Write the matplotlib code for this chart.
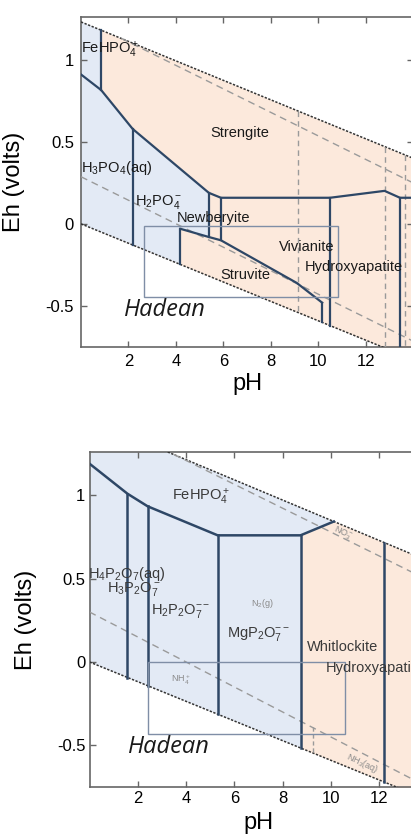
import numpy as np
import matplotlib
matplotlib.use("Agg")
import matplotlib.pyplot as plt
from matplotlib.patches import Rectangle

plt.rcParams['font.family'] = ['Liberation Sans', 'DejaVu Sans']
plt.rcParams['mathtext.fontset'] = 'custom'
plt.rcParams['mathtext.rm'] = 'Liberation Sans'
plt.rcParams['mathtext.it'] = 'Liberation Sans:italic'

# ---------------- top panel (orthophosphate) ----------------
top_o2_ph, top_o2_eh = [0, 14], [1.23, 0.40]          # upper water line (dotted)
top_h2_ph, top_h2_eh = [0, 14], [0.0, -0.826]         # lower water line (dotted)
top_no3_ph, top_no3_eh = [1.7, 14], [1.13, 0.25]      # gray dashed
top_nh4_ph, top_nh4_eh = [0, 14], [0.287, -0.714]     # gray dashed
top_vdash_ph = [9.15, 12.8, 13.65]

top_curve_ph = [0, 0.85, 2.18, 5.39, 5.9, 10.5, 12.8, 13.45, 14]
top_curve_eh = [0.91, 0.815, 0.578, 0.189, 0.159, 0.159, 0.201, 0.159, 0.159]
top_struv_ph = [4.19, 5.39, 5.9, 9.1, 10.17]
top_struv_eh = [-0.03, -0.08, -0.10, -0.36, -0.48]
top_vert_ph = [0.85, 2.18, 4.19, 5.39, 5.9, 10.17, 10.5, 13.45]
top_vert_top = [1.18, 0.578, -0.03, 0.189, 0.159, -0.48, 0.159, 0.159]
top_vert_bot = [0.815, -0.129, -0.247, -0.08, -0.10, -0.60, -0.62, -0.75]
top_box = [2.67, 10.85, -0.445, -0.012]

top_labels = ['FeHPO$_4^+$', 'Strengite', 'H$_3$PO$_4$(aq)', 'H$_2$PO$_4^-$',
              'Newberyite', 'Vivianite', 'Hydroxyapatite', 'Struvite']
top_lab_ph = [0.0, 6.7, 0.0, 3.27, 5.6, 9.5, 9.45, 6.93]
top_lab_eh = [1.06, 0.555, 0.34, 0.134, 0.037, -0.14, -0.26, -0.31]
top_lab_ha = ['left', 'center', 'left', 'center', 'center', 'center', 'left', 'center']
top_hadean = (3.55, -0.525)

# ---------------- bottom panel (pyrophosphate) ----------------
bot_o2_ph, bot_o2_eh = [3.24, 14], [1.26, 0.608]
bot_h2_ph, bot_h2_eh = [0, 14], [0.0, -0.826]
bot_no3_ph, bot_no3_eh = [3.5, 14], [1.245, 0.493]
bot_nh4_ph, bot_nh4_eh = [0, 14], [0.30, -0.75]
bot_vdash = (9.25, -0.39, -0.545)

bot_curve_ph = [0, 1.57, 2.41, 5.31, 8.74, 10.12]
bot_curve_eh = [1.19, 1.01, 0.934, 0.76, 0.76, 0.843]
bot_vert_ph = [1.57, 2.41, 5.31, 8.74, 12.19]
bot_vert_top = [1.01, 0.934, 0.76, 0.76, 0.717]
bot_vert_bot = [-0.093, -0.142, -0.313, -0.516, -0.72]
bot_box = [2.41, 10.57, -0.43, 0.0]

bot_labels = ['FeHPO$_4^+$', 'H$_4$P$_2$O$_7$(aq)', 'H$_3$P$_2$O$_7^-$', 'H$_2$P$_2$O$_7^{--}$',
              'MgP$_2$O$_7^{--}$', 'Whitlockite', 'Hydroxyapatite']
bot_lab_ph = [4.6, -0.07, 1.85, 3.78, 7.0, 10.5, 9.8]
bot_lab_eh = [0.99, 0.53, 0.44, 0.305, 0.17, 0.09, -0.035]
bot_lab_ha = ['center', 'left', 'center', 'center', 'center', 'center', 'left']
bot_small = ['N$_2$(g)', 'NH$_4^+$', 'NO$_3^-$', 'NH$_3$(aq)']
bot_small_ph = [7.17, 3.78, 10.5, 11.3]
bot_small_eh = [0.35, -0.11, 0.77, -0.61]
bot_small_rot = [0, 0, -25, -25]
bot_hadean = (3.3, -0.51)

BLUE = '#e3eaf5'
ORANGE = '#fce9dc'
LINE = '#2e4766'
BOXC = '#7f8ea6'
XLIM = (0, 14)
YLIM = (-0.75, 1.26)


def style_axes(ax):
    ax.set_xlim(XLIM)
    ax.set_ylim(YLIM)
    ax.set_xticks([2, 4, 6, 8, 10, 12])
    ax.set_yticks([-0.5, 0, 0.5, 1])
    ax.set_yticklabels(['-0.5', '0', '0.5', '1'])
    ax.tick_params(direction='in', top=True, right=True, length=4, width=1,
                   color='#666666', labelsize=12, pad=5)
    for s in ax.spines.values():
        s.set_color('#666666')
        s.set_linewidth(1.2)
    ax.set_xlabel('pH', fontsize=17, labelpad=0)
    ax.set_ylabel('Eh (volts)', fontsize=17)


def water_lines(ax, o2_ph, o2_eh, h2_ph, h2_eh, no3_ph, no3_eh, nh4_ph, nh4_eh):
    ax.plot(o2_ph, o2_eh, ls=(0, (1.5, 1)), color='#333333', lw=1.1, zorder=3)
    ax.plot(h2_ph, h2_eh, ls=(0, (1.5, 1)), color='#333333', lw=1.1, zorder=3)
    ax.plot(no3_ph, no3_eh, ls=(0, (5, 3.5)), color='#9a9a9a', lw=1.0, zorder=3)
    ax.plot(nh4_ph, nh4_eh, ls=(0, (5, 3.5)), color='#9a9a9a', lw=1.0, zorder=3)


fig = plt.figure(figsize=(4.11, 8.34), dpi=100)
fig.set_facecolor('white')

# ---------- top ----------
ax = fig.add_axes([81 / 411, 1 - 347 / 834, 332 / 411, 330 / 834])
xs = np.linspace(top_vert_ph[0], 14, 200)
ax.fill_between(xs, np.interp(xs, top_h2_ph, top_h2_eh), np.interp(xs, top_o2_ph, top_o2_eh),
                color=ORANGE, lw=0, zorder=1)
xo = np.linspace(0, top_vert_ph[0], 20)
xl = np.linspace(top_vert_ph[2], 0, 20)
poly_x = list(xo) + [top_vert_ph[0]] + [p for p in top_curve_ph if top_vert_ph[0] < p <= top_struv_ph[1]] \
    + top_struv_ph[1::-1] + [top_vert_ph[2]] + list(xl)
poly_y = list(np.interp(xo, top_o2_ph, top_o2_eh)) + [top_vert_bot[0]] \
    + [e for p, e in zip(top_curve_ph, top_curve_eh) if top_vert_ph[0] < p <= top_struv_ph[1]] \
    + top_struv_eh[1::-1] + [top_vert_bot[2]] + list(np.interp(xl, top_h2_ph, top_h2_eh))
ax.fill(poly_x, poly_y, color=BLUE, lw=0, zorder=1.5)

water_lines(ax, top_o2_ph, top_o2_eh, top_h2_ph, top_h2_eh,
            top_no3_ph, top_no3_eh, top_nh4_ph, top_nh4_eh)
for p in top_vdash_ph:
    ax.plot([p, p], [np.interp(p, top_o2_ph, top_o2_eh), np.interp(p, top_h2_ph, top_h2_eh)],
            ls=(0, (4, 3)), color='#9a9a9a', lw=1.0, zorder=3)

ax.plot(top_curve_ph, top_curve_eh, color=LINE, lw=1.6, zorder=4)
ax.plot(top_struv_ph, top_struv_eh, color=LINE, lw=1.6, zorder=4)
for p, t, b in zip(top_vert_ph, top_vert_top, top_vert_bot):
    ax.plot([p, p], [t, b], color=LINE, lw=1.6, zorder=4)
ax.add_patch(Rectangle((top_box[0], top_box[2]), top_box[1] - top_box[0], top_box[3] - top_box[2],
                       fill=False, ec=BOXC, lw=1.0, zorder=5))

for s, x, y, ha in zip(top_labels, top_lab_ph, top_lab_eh, top_lab_ha):
    ax.text(x, y, s, ha=ha, va='center', fontsize=10.5, color='#1a1a1a', zorder=6)
ax.text(*top_hadean, 'Hadean', ha='center', va='center', fontsize=17, style='italic',
        family='Open Sans', color='#1a1a1a', zorder=6)
style_axes(ax)
ax.yaxis.set_label_coords(-0.17, 0.5)
ax.xaxis.set_label_coords(0.5, -0.08)

# ---------- bottom ----------
ax = fig.add_axes([89.5 / 411, 1 - 787 / 834, 338 / 411, 335 / 834])
xs = np.linspace(bot_vert_ph[3], 14, 200)
ax.fill_between(xs, np.interp(xs, bot_h2_ph, bot_h2_eh),
                np.interp(xs, bot_o2_ph, bot_o2_eh, left=YLIM[1]),
                color=ORANGE, lw=0, zorder=1)
xo = np.linspace(bot_o2_ph[0], bot_curve_ph[-1], 40)
xl = np.linspace(bot_vert_ph[3], 0, 40)
poly_x = [0] + list(xo) + bot_curve_ph[-2:-1] + [bot_vert_ph[3]] + list(xl)
poly_y = [YLIM[1]] + list(np.interp(xo, bot_o2_ph, bot_o2_eh)) + bot_curve_eh[-2:-1] \
    + [bot_vert_bot[3]] + list(np.interp(xl, bot_h2_ph, bot_h2_eh))
ax.fill(poly_x, poly_y, color=BLUE, lw=0, zorder=1.5)

water_lines(ax, bot_o2_ph, bot_o2_eh, bot_h2_ph, bot_h2_eh,
            bot_no3_ph, bot_no3_eh, bot_nh4_ph, bot_nh4_eh)
ax.plot([bot_vdash[0]] * 2, bot_vdash[1:], ls=(0, (3, 2)), color='#9a9a9a', lw=1.0, zorder=3)

ax.plot(bot_curve_ph, bot_curve_eh, color=LINE, lw=1.8, zorder=4)
for p, t, b in zip(bot_vert_ph, bot_vert_top, bot_vert_bot):
    ax.plot([p, p], [t, b], color=LINE, lw=1.8, zorder=4)
ax.add_patch(Rectangle((bot_box[0], bot_box[2]), bot_box[1] - bot_box[0], bot_box[3] - bot_box[2],
                       fill=False, ec=BOXC, lw=1.0, zorder=5))

for s, x, y, ha in zip(bot_labels, bot_lab_ph, bot_lab_eh, bot_lab_ha):
    ax.text(x, y, s, ha=ha, va='center', fontsize=10.5, color='#3a3a3a', zorder=6)
for s, x, y, r in zip(bot_small, bot_small_ph, bot_small_eh, bot_small_rot):
    ax.text(x, y, s, ha='center', va='center', fontsize=6.5, color='#8a8a8a', rotation=r, zorder=6)
ax.text(*bot_hadean, 'Hadean', ha='center', va='center', fontsize=17, style='italic',
        family='Open Sans', color='#1a1a1a', zorder=6)
style_axes(ax)
ax.tick_params(pad=3)
ax.yaxis.set_label_coords(-0.155, 0.5)
ax.xaxis.set_label_coords(0.5, -0.075)

fig.savefig('out.png', dpi=100)
